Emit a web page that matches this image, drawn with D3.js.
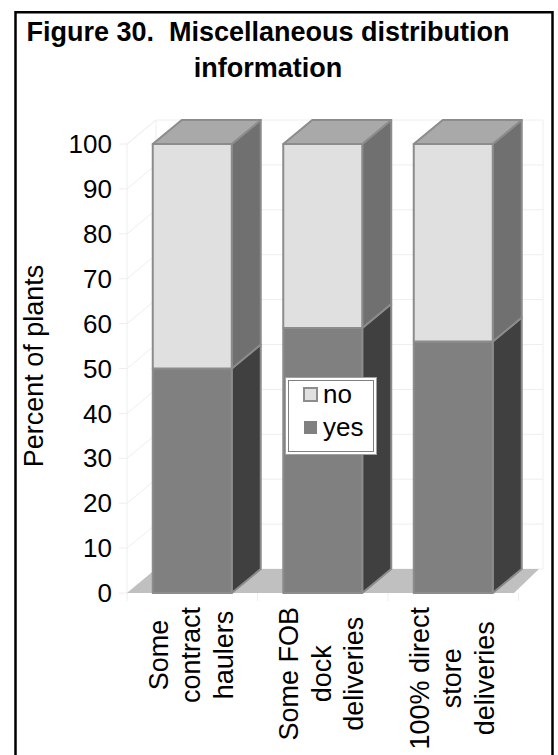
<!DOCTYPE html>
<html>
<head>
<meta charset="utf-8">
<script src="https://cdn.jsdelivr.net/npm/d3@7"></script>
<style>
  html, body { margin: 0; padding: 0; background: #fff; }
  svg { display: block; }
  text { white-space: pre; }
</style>
</head>
<body>
<svg id="chart" width="558" height="755"></svg>
<script>
// ---- data ----
const categories = ["Some contract haulers", "Some FOB dock deliveries", "100% direct store deliveries"];
const categoryLines = [["Some", "contract", "haulers"], ["Some FOB", "dock", "deliveries"], ["100% direct", "store", "deliveries"]];
const seriesNames = ["yes", "no"];
const yesValues = [50, 59, 56];
const noValues = [50, 41, 44];
const yTickValues = [0, 10, 20, 30, 40, 50, 60, 70, 80, 90, 100];
const titleLines = ["Figure 30.  Miscellaneous distribution", "information"];
const yAxisTitle = "Percent of plants";

// ---- setup ----
const svg = d3.select("#chart");
const FONT = "Arial, 'Liberation Sans', Helvetica, sans-serif";
const DX = 29, DY = -24;            // depth offset of the 3-D boxes
const plot = { left: 127, right: 518.5, top: 144, bottom: 593 };

const faceFill = {
  yes: { front: "#808080", side: "#404040" },
  no:  { front: "#e0e0e0", side: "#707070" }
};
const topFill = "#a9a9a9";
const edge = "#8c8c8c";

const x = d3.scaleBand()
  .domain(categories)
  .range([plot.left, plot.right])
  .paddingInner(0.3946)
  .paddingOuter(0.1973);
const y = d3.scaleLinear().domain([0, 100]).range([plot.bottom, plot.top]);

const rows = categories.map((c, i) => ({ cat: c, yes: yesValues[i], no: noValues[i] }));
const stacked = d3.stack().keys(seriesNames)(rows);

// ---- outer frame ----
svg.append("rect")
  .attr("x", 15.5).attr("y", 12.25)
  .attr("width", 537).attr("height", 760)
  .attr("fill", "none").attr("stroke", "#000").attr("stroke-width", 2.5);

// ---- title ----
svg.append("g").selectAll("text").data(titleLines).join("text")
  .attr("x", 268).attr("y", (d, i) => 41 + i * 36)
  .attr("text-anchor", "middle")
  .attr("font-family", FONT).attr("font-weight", "bold").attr("font-size", 27)
  .attr("fill", "#000")
  .text(d => d);

// ---- walls and gridlines ----
const wallX0 = plot.left, wallX1 = 514;
const grid = svg.append("g").attr("fill", "none").attr("stroke", "#eeeeee").attr("stroke-width", 1);
grid.selectAll("path.g").data(yTickValues).join("path")
  .attr("class", "g")
  .attr("d", v => `M${wallX0},${y(v)} L${wallX0 + DX},${y(v) + DY} L${wallX1 + DX},${y(v) + DY}`);
grid.append("path")
  .attr("d", `M${wallX0},${y(0)} L${wallX0},${y(100)} L${wallX0 + DX},${y(100) + DY} L${wallX0 + DX},${y(0) + DY}`);
grid.append("path")
  .attr("d", `M${wallX1 + DX},${y(100) + DY} L${wallX1 + DX},${y(0) + DY}`);
// value tick marks
grid.selectAll("path.t").data(yTickValues).join("path")
  .attr("class", "t")
  .attr("d", v => `M${wallX0 - 8},${y(v)} L${wallX0},${y(v)}`);
// category tick marks below the floor
const bounds = categories.map(c => x(c) - x.step() * x.paddingInner() / 2).concat([plot.right]);
bounds[0] = plot.left;
grid.selectAll("path.c").data(bounds).join("path")
  .attr("class", "c")
  .attr("d", b => `M${b},${y(0)} L${b},${y(0) + 8}`);

// ---- floor ----
svg.append("path")
  .attr("d", `M${wallX0},${y(0)} L${wallX1},${y(0)} L${wallX1 + DX - 4},${y(0) + DY} L${wallX0 + DX},${y(0) + DY} Z`)
  .attr("fill", "#c0c0c0");

// ---- value axis labels ----
svg.append("g").selectAll("text").data(yTickValues).join("text")
  .attr("x", 112).attr("y", v => y(v)).attr("dy", "0.35em")
  .attr("text-anchor", "end")
  .attr("font-family", FONT).attr("font-size", 26).attr("fill", "#000")
  .text(v => v);

svg.append("text")
  .attr("transform", "translate(43,366) rotate(-90)")
  .attr("text-anchor", "middle")
  .attr("font-family", FONT).attr("font-size", 27).attr("fill", "#000")
  .text(yAxisTitle);

// ---- 3-D stacked columns ----
const bars = svg.append("g").attr("stroke", edge).attr("stroke-width", 2).attr("stroke-linejoin", "round");
categories.forEach((c, i) => {
  const x0 = x(c), x1 = x(c) + x.bandwidth();
  stacked.forEach(layer => {
    const seg = layer[i];
    const yb = y(seg[0]), yt = y(seg[1]);
    const f = faceFill[layer.key];
    // side face
    bars.append("path")
      .attr("d", `M${x1},${yb} L${x1},${yt} L${x1 + DX},${yt + DY} L${x1 + DX},${yb + DY} Z`)
      .attr("fill", f.side);
    // front face
    bars.append("rect")
      .attr("x", x0).attr("y", yt)
      .attr("width", x1 - x0).attr("height", yb - yt)
      .attr("fill", f.front);
  });
  // top face
  const top = y(stacked[stacked.length - 1][i][1]);
  bars.append("path")
    .attr("d", `M${x0},${top} L${x1},${top} L${x1 + DX},${top + DY} L${x0 + DX},${top + DY} Z`)
    .attr("fill", topFill);
});

// ---- category labels (rotated, multi-line) ----
const catG = svg.append("g")
  .attr("font-family", FONT).attr("font-size", 27).attr("fill", "#000");
categories.forEach((c, i) => {
  const cx = x(c) + x.bandwidth() / 2;
  const lines = categoryLines[i];
  const texts = lines.map(ln => catG.append("text")
    .attr("text-anchor", "middle")
    .text(ln));
  const lmax = d3.max(texts, t => t.node().getComputedTextLength());
  const cy = 607 + lmax / 2;
  texts.forEach((t, j) => {
    const bx = cx + 8 + (j - (lines.length - 1) / 2) * 32.5;
    t.attr("transform", `translate(${bx},${cy}) rotate(-90)`);
  });
});

// ---- legend ----
const lg = svg.append("g");
lg.append("rect").attr("x", 285.5).attr("y", 377.5).attr("width", 91).attr("height", 77)
  .attr("fill", "#fff").attr("stroke", "#a0a0a0").attr("stroke-width", 1);
lg.append("rect").attr("x", 288.5).attr("y", 380.5).attr("width", 85).attr("height", 71)
  .attr("fill", "none").attr("stroke", "#808080").attr("stroke-width", 1);
const legendItems = ["no", "yes"];
legendItems.forEach((k, i) => {
  const yy = 388 + i * 33;
  lg.append("rect").attr("x", 304).attr("y", yy).attr("width", 13).attr("height", 13)
    .attr("fill", faceFill[k].front)
    .attr("stroke", k === "no" ? edge : "none").attr("stroke-width", 2);
  lg.append("text").attr("x", 323).attr("y", yy + 15)
    .attr("font-family", FONT).attr("font-size", 26).attr("fill", "#000")
    .text(k);
});
</script>
</body>
</html>
